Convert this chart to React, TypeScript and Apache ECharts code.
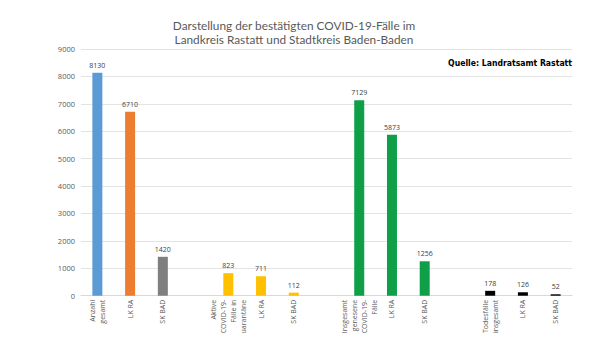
import React, { useEffect, useRef } from "react";
import * as echarts from "echarts";

const categories = [
  "Anzahl\ngesamt", "LK RA", "SK BAD", "",
  "Aktive\nCOVID-19-\nFälle in\nQuarantäne", "LK RA", "SK BAD", "",
  "Insgesamt\ngenesene\nCOVID-19-\nFälle", "LK RA", "SK BAD", "",
  "Todesfälle\ninsgesamt", "LK RA", "SK BAD",
];
const values: (number | null)[] = [
  8130, 6710, 1420, null,
  823, 711, 112, null,
  7129, 5873, 1256, null,
  178, 126, 52,
];
const colors = [
  "#5B9BD5", "#ED7D31", "#7F7F7F", "#000",
  "#FFC000", "#FFC000", "#FFC000", "#000",
  "#0E9F48", "#0E9F48", "#0E9F48", "#000",
  "#000000", "#000000", "#000000",
];
const yTicks = [0, 1000, 2000, 3000, 4000, 5000, 6000, 7000, 8000, 9000];
const titleLines = [
  "Darstellung der bestätigten COVID-19-Fälle im",
  "Landkreis Rastatt und Stadtkreis Baden-Baden",
];
const sourceText = "Quelle: Landratsamt Rastatt";

export default function App() {
  const ref = useRef<HTMLDivElement>(null);
  useEffect(() => {
    const chart = echarts.init(ref.current!, null, { renderer: "svg" });
    chart.setOption({
      animation: false,
      backgroundColor: "#fff",
      graphic: [
        ...titleLines.map((t, i) => ({
          type: "text",
          x: 294,
          y: 19.5 + i * 14,
          style: {
            text: t,
            font: "11.8px Lato",
            fill: "#595959",
            align: "center",
            verticalAlign: "alphabetic",
          },
        })),
        {
          type: "text",
          right: 36,
          top: 58,
          style: {
            text: sourceText,
            font: "bold 8.6px 'DejaVu Sans Condensed', 'DejaVu Sans'",
            fill: "#000",
          },
        },
      ],
      grid: { left: 81, right: 36, top: 49, bottom: 41, containLabel: false },
      xAxis: {
        type: "category",
        data: categories,
        axisTick: { show: false },
        axisLine: { lineStyle: { color: "#d9d9d9" } },
        axisLabel: {
          interval: 0,
          rotate: 90,
          fontSize: 7,
          lineHeight: 10,
          color: "#595959",
          fontFamily: "Open Sans",
          margin: 4,
        },
      },
      yAxis: {
        type: "value",
        min: yTicks[0],
        max: yTicks[yTicks.length - 1],
        interval: 1000,
        axisLabel: {
          fontSize: 7.5,
          color: "#595959",
          fontFamily: "Open Sans",
          margin: 6,
          formatter: (v: number) => String(v),
        },
        splitLine: { lineStyle: { color: "#e3e3e3" } },
      },
      series: [
        {
          type: "bar",
          barWidth: 10,
          data: values.map((v, i) => ({
            value: v === null ? "-" : v,
            itemStyle: { color: colors[i] },
          })),
          label: {
            show: true,
            position: "top",
            fontSize: 7,
            color: "#404040",
            fontFamily: "Open Sans",
            distance: 4,
          },
        },
      ],
    });
    return () => chart.dispose();
  }, []);
  return <div ref={ref} style={{ width: 608, height: 342, margin: -8 }} />;
}
